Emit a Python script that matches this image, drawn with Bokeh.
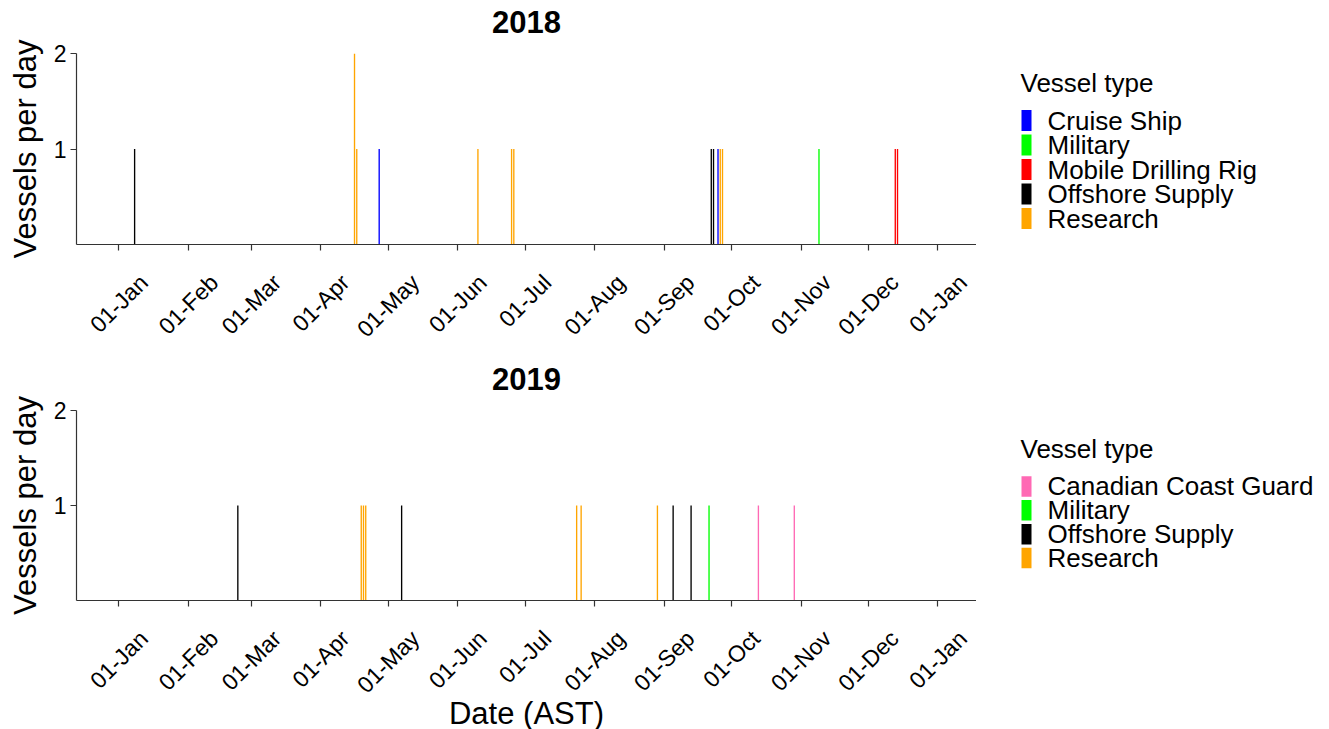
import math
import pandas as pd
from bokeh.plotting import figure
from bokeh.models import (Range1d, FixedTicker, CustomJSTickFormatter, LinearAxis,
                          ColumnDataSource)
from bokeh.core.properties import value
from bokeh.layouts import column, row
from bokeh.embed import file_html
from bokeh.resources import INLINE

# ---------------- data ----------------
type_colors = {
    "Canadian Coast Guard": "#FF69B4",
    "Cruise Ship": "#0000FF",
    "Military": "#00FF00",
    "Mobile Drilling Rig": "#FF0000",
    "Offshore Supply": "#000000",
    "Research": "#FFA500",
}

dates_2018 = ["2018-01-08", "2018-04-16", "2018-04-17", "2018-04-27", "2018-06-10",
              "2018-06-25", "2018-06-26", "2018-09-22", "2018-09-23", "2018-09-25",
              "2018-09-26", "2018-09-27", "2018-11-09", "2018-12-13", "2018-12-14"]
types_2018 = ["Offshore Supply", "Research", "Research", "Cruise Ship", "Research",
              "Research", "Research", "Offshore Supply", "Offshore Supply", "Cruise Ship",
              "Research", "Research", "Military", "Mobile Drilling Rig", "Mobile Drilling Rig"]
counts_2018 = [1, 2, 1, 1, 1, 1, 1, 1, 1, 1, 1, 1, 1, 1, 1]
legend_2018 = ["Cruise Ship", "Military", "Mobile Drilling Rig", "Offshore Supply", "Research"]

dates_2019 = ["2019-02-23", "2019-04-19", "2019-04-20", "2019-04-21", "2019-05-07",
              "2019-07-24", "2019-07-26", "2019-08-29", "2019-09-05", "2019-09-13",
              "2019-09-21", "2019-10-13", "2019-10-29"]
types_2019 = ["Offshore Supply", "Research", "Research", "Research", "Offshore Supply",
              "Research", "Research", "Research", "Offshore Supply", "Offshore Supply",
              "Military", "Canadian Coast Guard", "Canadian Coast Guard"]
counts_2019 = [1, 1, 1, 1, 1, 1, 1, 1, 1, 1, 1, 1, 1]
legend_2019 = ["Canadian Coast Guard", "Military", "Offshore Supply", "Research"]

month_ticks_2018 = ["2018-01-01", "2018-02-01", "2018-03-01", "2018-04-01", "2018-05-01",
                    "2018-06-01", "2018-07-01", "2018-08-01", "2018-09-01", "2018-10-01",
                    "2018-11-01", "2018-12-01", "2019-01-01"]
month_ticks_2019 = ["2019-01-01", "2019-02-01", "2019-03-01", "2019-04-01", "2019-05-01",
                    "2019-06-01", "2019-07-01", "2019-08-01", "2019-09-01", "2019-10-01",
                    "2019-11-01", "2019-12-01", "2020-01-01"]
y_ticks = [1, 2]

FONT = "Liberation Sans"
DAY = 86400000.0
TICK_FS = 23
# approximate Arial advance widths (em) used to centre the rotated month labels
CHAR_W = {"0": .556, "1": .556, "-": .333, "J": .5, "a": .556, "n": .556, "F": .611,
          "e": .556, "b": .556, "M": .833, "r": .333, "A": .667, "p": .556, "y": .5,
          "u": .556, "l": .222, "g": .556, "S": .667, "O": .778, "c": .5, "t": .278,
          "N": .722, "o": .556, "v": .5, "D": .722}


def ms(d):
    return pd.Timestamp(d).value / 1e6


def style_axis_common(ax):
    ax.axis_line_color = "#333333"
    ax.axis_line_width = 1.2
    ax.major_tick_line_color = "#333333"
    ax.major_tick_line_width = 1.2
    ax.major_tick_out = 6
    ax.major_tick_in = 0
    ax.minor_tick_line_color = None


def make_main(year, dates, types, counts, legend_types, ticks, frame_h,
              border_top, border_bottom, show_xlabel):
    start = ms(f"{year}-01-01")
    lo, hi = start - 18.9 * DAY, start + 382.2 * DAY
    p = figure(frame_width=900, frame_height=frame_h, x_axis_type="datetime",
               output_backend="svg", toolbar_location=None,
               x_range=Range1d(lo, hi), y_range=Range1d(0, 2),
               min_border_left=76, min_border_right=0,
               min_border_top=border_top, min_border_bottom=border_bottom)
    p.outline_line_color = None
    p.grid.visible = False
    p.background_fill_color = "white"
    p.border_fill_color = "white"

    xa = p.below[0]
    ya = p.left[0]

    for t in legend_types:
        idx = [i for i, tt in enumerate(types) if tt == t]
        src = ColumnDataSource(dict(
            x=[pd.Timestamp(dates[i]) for i in idx],
            top=[counts[i] for i in idx],
        ))
        p.vbar(x="x", top="top", bottom=0, width=0.6 * DAY, source=src,
               fill_color=type_colors[t], line_color=None)

    # axis with the tick marks (month starts)
    xa.ticker = FixedTicker(ticks=[ms(d) for d in ticks])
    xa.formatter = CustomJSTickFormatter(code="return '';")
    xa.major_label_text_font_size = "1px"
    xa.major_label_standoff = 0
    style_axis_common(xa)

    # axis carrying the rotated labels, centred under each tick
    px_per_ms = 900.0 / (hi - lo)
    labels = [pd.Timestamp(d).strftime("%d-%b") for d in ticks]
    shifted = []
    for d, lab in zip(ticks, labels):
        L = sum(CHAR_W.get(ch, 0.556) for ch in lab) * TICK_FS
        shifted.append(ms(d) + (L / 2.0) * math.cos(math.pi / 4) / px_per_ms)
    xb = LinearAxis(ticker=FixedTicker(ticks=shifted),
                    formatter=CustomJSTickFormatter(args=dict(labels=labels),
                                                    code="return labels[index];"))
    xb.axis_line_color = None
    xb.major_tick_line_color = None
    xb.minor_tick_line_color = None
    xb.major_tick_out = 0
    xb.major_tick_in = 0
    xb.major_label_orientation = math.pi / 4
    xb.major_label_text_font = FONT
    xb.major_label_text_font_size = f"{TICK_FS}px"
    xb.major_label_text_color = "black"
    xb.major_label_standoff = 28
    if show_xlabel:
        xb.axis_label = "Date (AST)"
        xb.axis_label_text_font = FONT
        xb.axis_label_text_font_size = "31px"
        xb.axis_label_text_font_style = "normal"
        xb.axis_label_text_color = "black"
        xb.axis_label_standoff = -14
    p.add_layout(xb, "below")

    ya.ticker = FixedTicker(ticks=y_ticks)
    ya.major_label_text_font = FONT
    ya.major_label_text_font_size = "23px"
    ya.major_label_text_color = "black"
    ya.major_label_standoff = 4
    style_axis_common(ya)
    ya.axis_label = "Vessels per day"
    ya.axis_label_text_font = FONT
    ya.axis_label_text_font_size = "31px"
    ya.axis_label_text_font_style = "normal"
    ya.axis_label_text_color = "black"
    ya.axis_label_standoff = 8

    # panel title (year), centred above the panel
    ttl = LinearAxis(ticker=FixedTicker(ticks=[]), axis_label=str(year))
    ttl.axis_line_color = None
    ttl.major_tick_line_color = None
    ttl.minor_tick_line_color = None
    ttl.major_tick_out = 0
    ttl.major_label_standoff = 0
    ttl.axis_label_text_font = FONT
    ttl.axis_label_text_font_size = "31px"
    ttl.axis_label_text_font_style = "bold"
    ttl.axis_label_text_color = "black"
    ttl.axis_label_standoff = 21
    p.add_layout(ttl, "above")
    return p


def make_legend(legend_types, height, frame_top, frame_h, title_y, first_y, pitch):
    # frame aligned with the panel's frame; y measured in page pixels
    w = 353
    q = figure(width=w, height=height, x_range=Range1d(0, w),
               y_range=Range1d(frame_top + frame_h, frame_top),
               min_border_left=0, min_border_right=0,
               min_border_top=frame_top if frame_top < 100 else frame_top - 360,
               min_border_bottom=height - frame_h - (frame_top if frame_top < 100 else frame_top - 360),
               toolbar_location=None, output_backend="svg",
               x_axis_location=None, y_axis_location=None)
    q.outline_line_color = None
    q.grid.visible = False
    q.background_fill_color = "white"
    q.border_fill_color = "white"
    ys = [first_y + i * pitch for i in range(len(legend_types))]
    q.rect(x=[50] * len(ys), y=ys, width=10, height=21,
           fill_color=[type_colors[t] for t in legend_types], line_color=None)
    q.text(x=[71] * len(ys), y=ys, text=legend_types, text_font=value(FONT),
           text_font_size="26px", text_baseline="middle", text_align="left",
           text_color="black")
    q.text(x=[44], y=[title_y], text=["Vessel type"], text_font=value(FONT),
           text_font_size="26px", text_baseline="middle", text_align="left",
           text_color="black")
    return q


top = make_main(2018, dates_2018, types_2018, counts_2018, legend_2018, month_ticks_2018,
                frame_h=191, border_top=53, border_bottom=116, show_xlabel=False)
top_leg = make_legend(legend_2018, 360, 53, 191, 82, 120, 24.5)
bottom = make_main(2019, dates_2019, types_2019, counts_2019, legend_2019, month_ticks_2019,
                   frame_h=190, border_top=50, border_bottom=129, show_xlabel=True)
bottom_leg = make_legend(legend_2019, 369, 410, 190, 450, 488, 24.5)

layout = column(row(top, top_leg, spacing=0), row(bottom, bottom_leg, spacing=0), spacing=0)
open("out.html", "w").write(file_html(layout, INLINE))
